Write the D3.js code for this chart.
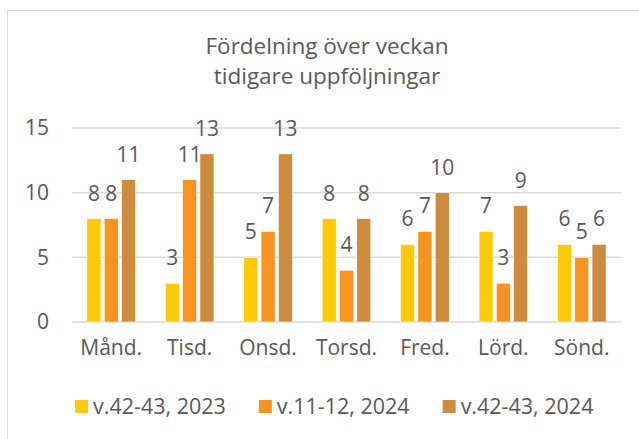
<!DOCTYPE html>
<html>
<head>
<meta charset="utf-8">
<script src="https://cdn.jsdelivr.net/npm/d3@7"></script>
<style>
  body { margin: 0; background: #fff; }
  text { font-family: "Open Sans", sans-serif; fill: #595959; }
</style>
</head>
<body>
<div class="container"></div>
<script>
const days = ["Månd.", "Tisd.", "Onsd.", "Torsd.", "Fred.", "Lörd.", "Sönd."]
const seriesNames = ["v.42-43, 2023", "v.11-12, 2024", "v.42-43, 2024"]
const v2023 = [8, 3, 5, 8, 6, 7, 6]
const v2024a = [8, 11, 7, 4, 7, 3, 5]
const v2024b = [11, 13, 13, 8, 10, 9, 6]
const yTicks = [0, 5, 10, 15]
const colors = ["#FFC907", "#F7931E", "#CD8B3E"]

const loadGraph = () => {
    const w = 639
    const h = 439
    const values = [v2023, v2024a, v2024b]

    const svg = d3.select(".container")
    .append("svg")
    .attr("width", w)
    .attr("height", h)

    // chart frame
    svg.append("rect")
    .attr("x", 7.5)
    .attr("y", 10.5)
    .attr("width", 660)
    .attr("height", 460)
    .attr("fill", "none")
    .attr("stroke", "#d9d9d9")

    // title, two lines
    svg.append("text")
    .attr("x", 327)
    .attr("y", 54)
    .attr("text-anchor", "middle")
    .style("font-size", "22.5px")
    .text("Fördelning över veckan")
    svg.append("text")
    .attr("x", 327)
    .attr("y", 84)
    .attr("text-anchor", "middle")
    .style("font-size", "22.5px")
    .text("tidigare uppföljningar")

    //Scales
    const x0 = d3.scaleBand().domain(days).range([72, 621]).paddingInner(0.38).paddingOuter(0.19)
    const x1 = d3.scaleBand().domain(d3.range(3)).range([0, x0.bandwidth()]).paddingInner(0.19)
    const yScale = d3.scaleLinear().domain([0, 15]).range([322, 128])

    // gridlines
    svg.append("g")
    .selectAll("line")
    .data(yTicks)
    .enter()
    .append("line")
    .attr("x1", 72)
    .attr("x2", 621)
    .attr("y1", d => yScale(d))
    .attr("y2", d => yScale(d))
    .attr("stroke", "#d9d9d9")
    .attr("stroke-width", 1.5)

    const yAxis = d3.axisLeft(yScale).tickValues(yTicks).tickSize(0).tickPadding(0)
    svg.append("g")
    .attr("transform", "translate(49,0)")
    .call(yAxis)
    .call(g => g.select(".domain").remove())
    .selectAll("text")
    .style("font-size", "21px")
    .attr("fill", "#595959")
    .attr("font-family", "Open Sans")

    const xAxis = d3.axisBottom(x0).tickSize(0).tickPadding(0)
    svg.append("g")
    .attr("transform", "translate(0,340)")
    .call(xAxis)
    .call(g => g.select(".domain").remove())
    .selectAll("text")
    .attr("dy", "0.71em")
    .style("font-size", "21px")
    .attr("fill", "#595959")
    .attr("font-family", "Open Sans")

    // bars
    const groups = svg.selectAll(".day")
    .data(days)
    .enter()
    .append("g")
    .attr("class", "day")
    .attr("transform", d => "translate(" + x0(d) + ",0)")

    groups.selectAll("rect")
    .data((d, i) => values.map((s, k) => ({k: k, v: s[i]})))
    .enter()
    .append("rect")
    .attr("x", d => x1(d.k))
    .attr("y", d => yScale(d.v))
    .attr("width", x1.bandwidth())
    .attr("height", d => yScale(0) - yScale(d.v))
    .attr("fill", d => colors[d.k])
    .attr("stroke", "#fff")
    .attr("stroke-width", 0.6)

    groups.selectAll(".lbl")
    .data((d, i) => values.map((s, k) => ({k: k, v: s[i]})))
    .enter()
    .append("text")
    .attr("class", "lbl")
    .attr("x", d => x1(d.k) + x1.bandwidth() / 2)
    .attr("y", d => yScale(d.v) - 18)
    .attr("text-anchor", "middle")
    .style("font-size", "21px")
    .text(d => d.v)

    // legend
    const legend = svg.append("g")
    let lx = 75
    seriesNames.forEach((name, k) => {
        legend.append("rect")
        .attr("x", lx)
        .attr("y", 400)
        .attr("width", 13)
        .attr("height", 13)
        .attr("fill", colors[k])
        const t = legend.append("text")
        .attr("x", lx + 18)
        .attr("y", 414)
        .style("font-size", "21.5px")
        .text(name)
        lx += 18 + t.node().getComputedTextLength() + 33
    })
}

document.addEventListener("DOMContentLoaded", loadGraph())
</script>
</body>
</html>
